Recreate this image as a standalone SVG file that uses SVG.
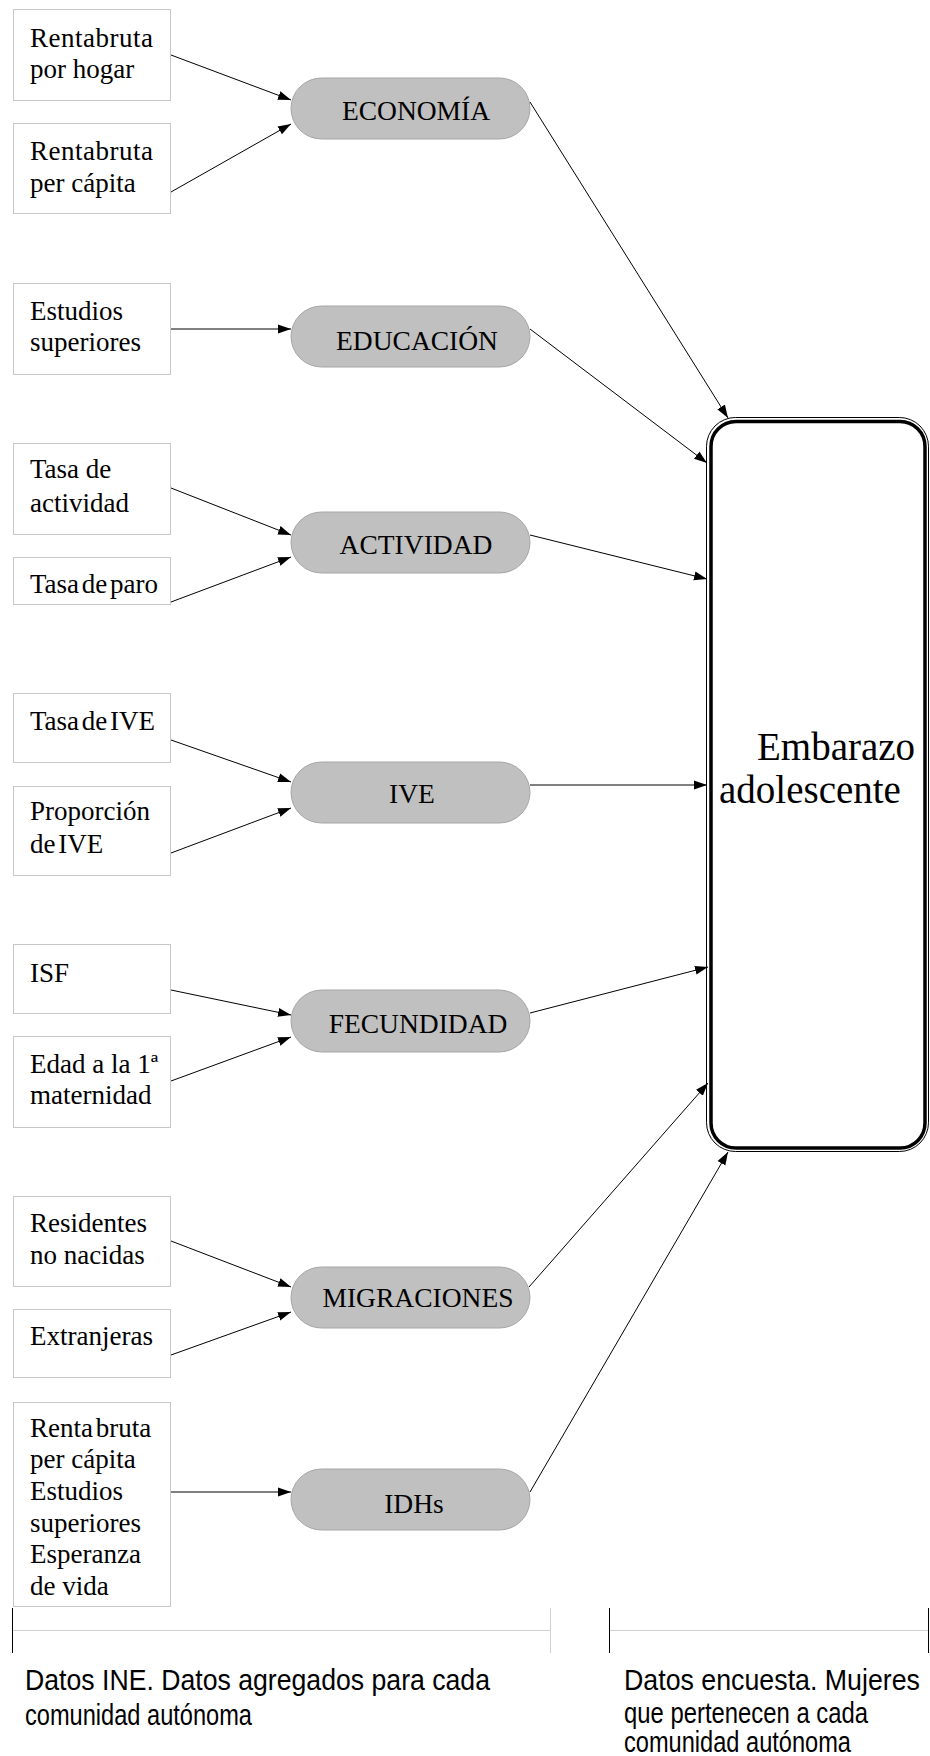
<svg xmlns="http://www.w3.org/2000/svg" width="930" height="1756" viewBox="0 0 930 1756">
<style>
.box{fill:#fff;stroke:#c8c8c8;stroke-width:1}
.pill{fill:#c0c0c0;stroke:#a6a6a6;stroke-width:1}
.t{font-family:"Liberation Serif","Times New Roman",serif;font-size:27px;fill:#000}
.p{font-family:"Liberation Serif","Times New Roman",serif;font-size:27.5px;fill:#000;text-anchor:middle}
.big{font-family:"Liberation Serif","Times New Roman",serif;font-size:39px;fill:#000}
.c{stroke:#000;stroke-width:1;fill:none;marker-end:url(#ah)}
.s{font-family:"Liberation Sans",Arial,sans-serif;font-size:29px;fill:#000}
.tick{stroke:#000;stroke-width:1}
.gl{stroke:#d0d0d0;stroke-width:1}
</style>
<defs>
<marker id="ah" markerWidth="14" markerHeight="10" refX="13" refY="5" orient="auto" markerUnits="userSpaceOnUse">
<path d="M0,0.5 L13,5 L0,9.5 z" fill="#000"/>
</marker>
</defs>
<rect width="930" height="1756" fill="#fff"/>

<g id="n-renta-hogar"><rect class="box" x="13.5" y="9.5" width="157" height="91"/><text class="t" x="30" y="47" letter-spacing="0.5">Rentabruta</text><text class="t" x="30" y="78">por hogar</text></g>
<g id="n-renta-capita"><rect class="box" x="13.5" y="123.5" width="157" height="90"/><text class="t" x="30" y="160" letter-spacing="0.5">Rentabruta</text><text class="t" x="30" y="192">per cápita</text></g>
<g id="n-estudios"><rect class="box" x="13.5" y="283.5" width="157" height="91"/><text class="t" x="30" y="320">Estudios</text><text class="t" x="30" y="351">superiores</text></g>
<g id="n-tasa-act"><rect class="box" x="13.5" y="443.5" width="157" height="91"/><text class="t" x="30" y="478">Tasa  de</text><text class="t" x="30" y="512">actividad</text></g>
<g id="n-tasa-paro"><rect class="box" x="13.5" y="557.5" width="157" height="47"/><text class="t" x="30" y="593" word-spacing="-4">Tasa de paro</text></g>
<g id="n-tasa-ive"><rect class="box" x="13.5" y="693.5" width="157" height="69"/><text class="t" x="30" y="730" word-spacing="-4">Tasa de IVE</text></g>
<g id="n-prop-ive"><rect class="box" x="13.5" y="786.5" width="157" height="89"/><text class="t" x="30" y="820">Proporción</text><text class="t" x="30" y="853" word-spacing="-4">de IVE</text></g>
<g id="n-isf"><rect class="box" x="13.5" y="944.5" width="157" height="69"/><text class="t" x="30" y="982">ISF</text></g>
<g id="n-edad"><rect class="box" x="13.5" y="1036.5" width="157" height="91"/><text class="t" x="30" y="1073">Edad a la 1ª</text><text class="t" x="30" y="1104">maternidad</text></g>
<g id="n-residentes"><rect class="box" x="13.5" y="1196.5" width="157" height="90"/><text class="t" x="30" y="1232">Residentes</text><text class="t" x="30" y="1264">no nacidas</text></g>
<g id="n-extranjeras"><rect class="box" x="13.5" y="1309.5" width="157" height="68"/><text class="t" x="30" y="1345">Extranjeras</text></g>
<g id="n-idh-vars"><rect class="box" x="13.5" y="1402.5" width="157" height="204"/>
<text class="t" x="30" y="1437" word-spacing="-4">Renta bruta</text><text class="t" x="30" y="1468">per cápita</text><text class="t" x="30" y="1500">Estudios</text><text class="t" x="30" y="1532">superiores</text><text class="t" x="30" y="1563">Esperanza</text><text class="t" x="30" y="1595">de vida</text></g>

<g id="n-economia"><rect class="pill" x="291" y="78" width="239" height="61" rx="30.5"/><text class="p" x="416" y="120">ECONOMÍA</text></g>
<g id="n-educacion"><rect class="pill" x="291" y="306" width="239" height="61" rx="30.5"/><text class="p" x="417" y="350">EDUCACIÓN</text></g>
<g id="n-actividad"><rect class="pill" x="291" y="512" width="239" height="61" rx="30.5"/><text class="p" x="416" y="554">ACTIVIDAD</text></g>
<g id="n-ive"><rect class="pill" x="291" y="762" width="239" height="61" rx="30.5"/><text class="p" x="412" y="803">IVE</text></g>
<g id="n-fecundidad"><rect class="pill" x="291" y="990" width="239" height="62" rx="31"/><text class="p" x="418" y="1033">FECUNDIDAD</text></g>
<g id="n-migraciones"><rect class="pill" x="291" y="1267" width="239" height="61" rx="30.5"/><text class="p" x="418" y="1307">MIGRACIONES</text></g>
<g id="n-idhs"><rect class="pill" x="291" y="1469" width="239" height="61" rx="30.5"/><text class="p" x="414" y="1513">IDHs</text></g>

<g id="n-embarazo">
<rect x="706.5" y="417.5" width="222" height="734" rx="29" fill="#fff" stroke="#000" stroke-width="1"/>
<rect x="711" y="421.5" width="214" height="726.5" rx="25" fill="none" stroke="#000" stroke-width="3.5"/>
<text class="big" x="757" y="760">Embarazo</text>
<text class="big" x="719" y="803">adolescente</text>
</g>

<g id="connectors">
<line class="c" x1="171" y1="55" x2="291" y2="100"/>
<line class="c" x1="171" y1="192" x2="291" y2="124"/>
<line class="c" x1="171" y1="329" x2="291" y2="329"/>
<line class="c" x1="171" y1="488" x2="291" y2="535"/>
<line class="c" x1="171" y1="602" x2="291" y2="557"/>
<line class="c" x1="171" y1="740" x2="291" y2="782"/>
<line class="c" x1="171" y1="853" x2="291" y2="808"/>
<line class="c" x1="171" y1="990" x2="291" y2="1015"/>
<line class="c" x1="171" y1="1081" x2="291" y2="1037"/>
<line class="c" x1="171" y1="1241" x2="291" y2="1287"/>
<line class="c" x1="171" y1="1355" x2="291" y2="1312"/>
<line class="c" x1="171" y1="1492" x2="291" y2="1492"/>
<line class="c" x1="530" y1="102" x2="728" y2="418"/>
<line class="c" x1="530" y1="329" x2="707" y2="463"/>
<line class="c" x1="530" y1="535" x2="707" y2="579"/>
<line class="c" x1="530" y1="785" x2="707" y2="785"/>
<line class="c" x1="530" y1="1013" x2="708" y2="967"/>
<line class="c" x1="529" y1="1287" x2="708" y2="1083" stroke-width="0.8"/>
<line class="c" x1="530" y1="1492" x2="728" y2="1152"/>
</g>

<g id="legend">
<line class="tick" x1="12.5" y1="1608" x2="12.5" y2="1653"/>
<line class="gl" x1="13" y1="1630.5" x2="550" y2="1630.5"/>
<line class="gl" x1="550.5" y1="1608" x2="550.5" y2="1653"/>
<line class="tick" x1="609.5" y1="1608" x2="609.5" y2="1653"/>
<line class="gl" x1="610" y1="1630.5" x2="928" y2="1630.5"/>
<line class="tick" x1="928.5" y1="1608" x2="928.5" y2="1653"/>
<text class="s" x="25" y="1690" textLength="465" lengthAdjust="spacingAndGlyphs">Datos INE. Datos agregados para cada</text>
<text class="s" x="25" y="1725" textLength="227" lengthAdjust="spacingAndGlyphs">comunidad autónoma</text>
<text class="s" x="624" y="1690" font-size="26.5" textLength="296" lengthAdjust="spacingAndGlyphs">Datos encuesta. Mujeres</text>
<text class="s" x="624" y="1723" textLength="244" lengthAdjust="spacingAndGlyphs">que pertenecen a cada</text>
<text class="s" x="624" y="1752" textLength="227" lengthAdjust="spacingAndGlyphs">comunidad autónoma</text>
</g>
</svg>
